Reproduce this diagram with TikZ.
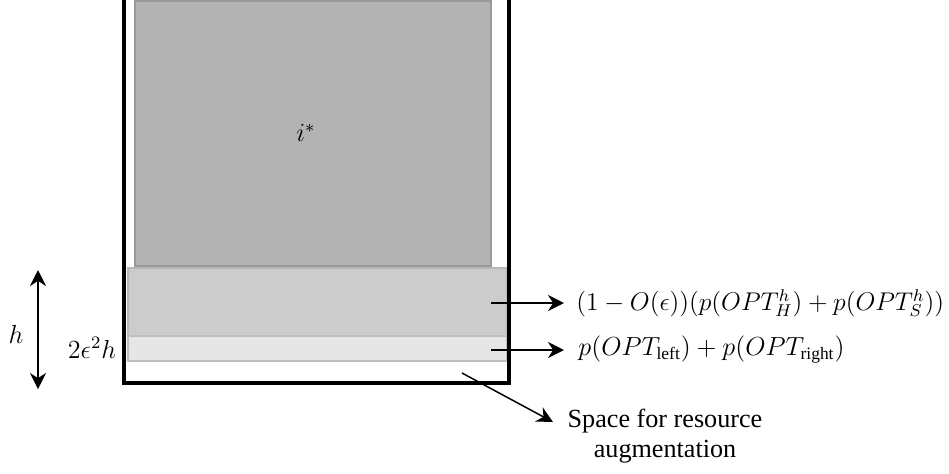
\documentclass[tikz,border=0pt]{standalone}
\usepackage{fontspec}
\setmainfont{Liberation Serif}
\usetikzlibrary{arrows.meta}
\definecolor{istarfill}{HTML}{B3B3B3}
\definecolor{istardraw}{HTML}{999999}
\definecolor{midfill}{HTML}{CCCCCC}
\definecolor{middraw}{HTML}{B8B8B8}
\definecolor{lowfill}{HTML}{E6E6E6}
\definecolor{lowdraw}{HTML}{BEBEBE}
\tikzset{
  box/.style={anchor=north west, inner sep=0pt, outer sep=0pt, line width=0.75pt},
  bin/.style={line width=1.75pt, line cap=rect},
  arr/.style={line width=1pt, -{Stealth[length=8pt,width=8pt]}},
  thinarr/.style={line width=0.75pt, -{Stealth[length=8pt,width=8pt]}},
  lbl/.style={inner sep=0pt, scale=1.09, transform shape, font=\fontsize{12}{13}\selectfont},
}
\begin{document}
\begin{tikzpicture}[x=0.5pt,y=-0.5pt]
\useasboundingbox[fill=white] (0,0) rectangle (949,473);
% boxes
\node[box, draw=istardraw, fill=istarfill, minimum width=178pt, minimum height=132.5pt] (istar) at (135,1) {};
\node[lbl] (ilab) at (306,133) {$i^{*}$};
\node[box, draw=middraw, fill=midfill, minimum width=189.5pt, minimum height=34pt] (mid) at (128,268) {};
\node[box, draw=lowdraw, fill=lowfill, minimum width=189.5pt, minimum height=12.5pt] (low) at (128,336) {};
% bin
\coordinate (bTL) at (124,-10);
\coordinate (bBL) at (124,383);
\coordinate (bBR) at (509,383);
\coordinate (bTR) at (509,-10);
\draw[bin] (bTL) -- (bBL) -- (bBR) -- (bTR);
% height arrow
\coordinate (hT) at (38,270);
\coordinate (hB) at (38,389);
\draw[line width=1pt, {Stealth[length=8pt,width=8pt]}-{Stealth[length=8pt,width=8pt]}] (hT) -- (hB);
\node[lbl] (hlab) at (16,334) {$h$};
\node[lbl] (elab) at (92,348) {$2\epsilon^2 h$};
% labels and arrows
\coordinate (a1) at (491,303);
\coordinate (a2) at (491,350);
\node[lbl, scale=0.978, anchor=west] (t1) at (576,303) {$(1-O(\epsilon))(p(OPT_H^h)+p(OPT_S^h))$};
\node[lbl, anchor=west] (t2) at (578,350) {$p(OPT_{\mathrm{left}})+p(OPT_{\mathrm{right}})$};
\draw[arr] (a1) -- (t1.west -| 564,0);
\draw[arr] (a2) -- (t2.west -| 564,0);
\coordinate (a3) at (462,373);
\node[lbl, align=center, font=\fontsize{12}{13.5}\selectfont] (t3) at (665,436) {Space for resource\\augmentation};
\coordinate (a3e) at (553,422);
\draw[thinarr] (a3) -- (a3e);
\end{tikzpicture}
\end{document}
